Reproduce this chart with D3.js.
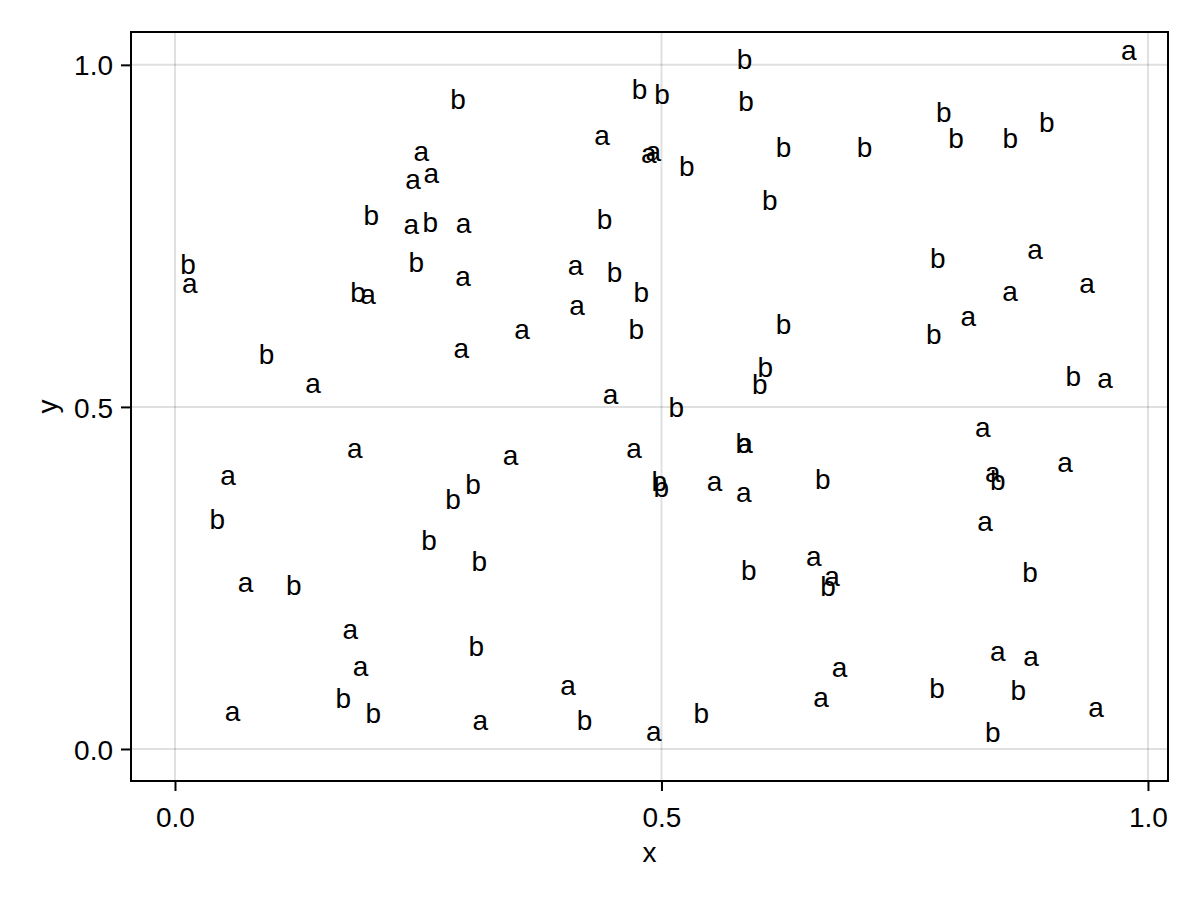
<!DOCTYPE html>
<html>
<head>
<meta charset="utf-8">
<script src="https://cdn.jsdelivr.net/npm/d3@7"></script>
<style>
  html, body { margin: 0; padding: 0; background: #fff; }
  svg { display: block; }
  text { font-family: "Liberation Sans", "Arimo", Arial, sans-serif; }
</style>
</head>
<body>
<svg id="chart" width="1200" height="900"></svg>
<script>
// ---- data ----
const labels = [
  "a","a","a","a","a","a","a","a","a","a","a","a","a","a","a","a","a","a","a","a","a","a","a","a",
  "a","a","a","a","a","a","a","a","a","a","a","a","a","a","a","a","a","a","a","a","a","a","a","a",
  "b","b","b","b","b","b","b","b","b","b","b","b","b","b","b","b","b","b","b","b","b","b","b","b","b","b",
  "b","b","b","b","b","b","b","b","b","b","b","b","b","b","b","b","b","b","b","b","b","b","b","b","b","b"
];
const xValues = [
  0.9722,0.4308,0.2452,0.4789,0.4835,0.2555,0.2367,0.2349,0.2886,0.8759,0.4037,0.2880,
  0.0072,0.1904,0.9293,0.8502,0.4051,0.8074,0.3486,0.2863,0.1339,0.9478,0.4396,0.8222,
  0.5780,0.4637,0.1767,0.3369,0.9067,0.0466,0.8325,0.5465,0.5767,0.8245,0.6486,0.6674,
  0.0644,0.1723,0.8376,0.8718,0.1828,0.6749,0.3959,0.6561,0.0511,0.9386,0.3058,0.4842,
  0.5773,0.4694,0.4925,0.2829,0.5790,0.7821,0.8879,0.7948,0.8505,0.6174,0.7006,0.5181,0.6034,
  0.1938,0.4335,0.2544,0.7760,0.0055,0.2401,0.4438,0.1802,0.4712,0.6174,0.4661,0.7719,0.0860,
  0.5986,0.5931,0.9153,0.5071,0.5760,0.4897,0.4917,0.6578,0.2983,0.8376,0.2778,0.0356,0.2531,
  0.3048,0.5818,0.8708,0.1140,0.6633,0.3017,0.7752,0.8588,0.1651,0.5328,0.1959,0.4129,0.8325
];
const yValues = [
  0.9978,0.8737,0.8493,0.8467,0.8503,0.8178,0.8080,0.7423,0.7447,0.7058,0.6824,0.6663,
  0.6561,0.6400,0.6561,0.6449,0.6240,0.6083,0.5889,0.5622,0.5111,0.5184,0.4940,0.4468,
  0.4235,0.4162,0.4162,0.4049,0.3952,0.3757,0.3797,0.3674,0.3505,0.3086,0.2579,0.2282,
  0.2190,0.1508,0.1192,0.1119,0.0964,0.0949,0.0691,0.0511,0.0315,0.0365,0.0180,0.0023,
  0.9841,0.9403,0.9330,0.9257,0.9233,0.9062,0.8916,0.8683,0.8683,0.8551,0.8551,0.8284,0.7773,
  0.7554,0.7504,0.7456,0.6930,0.6847,0.6872,0.6726,0.6434,0.6434,0.5971,0.5898,0.5825,0.5533,
  0.5339,0.5095,0.5203,0.4755,0.4233,0.3674,0.3586,0.3708,0.3635,0.3684,0.3416,0.3115,0.2808,
  0.2506,0.2370,0.2345,0.2151,0.2141,0.1265,0.0641,0.0618,0.0495,0.0276,0.0276,0.0180,0.0009
];
const xTicks = [0.0, 0.5, 1.0];
const yTicks = [0.0, 0.5, 1.0];
const xLimits = [-0.0452, 1.0206];
const yLimits = [-0.0468, 1.0480];
const xLabel = "x";
const yLabel = "y";

// ---- layout ----
const svg = d3.select("#chart");
const pLeft = 131, pRight = 1168, pTop = 32, pBottom = 781;
const fontSize = 28;

const x = d3.scaleLinear().domain(xLimits).range([pLeft, pRight]);
const y = d3.scaleLinear().domain(yLimits).range([pBottom, pTop]);

// grid
const grid = svg.append("g");
grid.selectAll("line.gx").data(xTicks).join("line").attr("class", "gx")
  .attr("x1", d => x(d)).attr("x2", d => x(d))
  .attr("y1", pTop).attr("y2", pBottom)
  .attr("stroke", "rgba(0,0,0,0.12)").attr("stroke-width", 2);
grid.selectAll("line.gy").data(yTicks).join("line").attr("class", "gy")
  .attr("y1", d => y(d)).attr("y2", d => y(d))
  .attr("x1", pLeft).attr("x2", pRight)
  .attr("stroke", "rgba(0,0,0,0.12)").attr("stroke-width", 2);

// text marks (left/bottom aligned like Makie text!)
svg.append("g").selectAll("text").data(labels.map((l, i) => ({l, xv: xValues[i], yv: yValues[i]})))
  .join("text")
  .attr("x", d => x(d.xv))
  .attr("y", d => y(d.yv))
  .attr("dy", "-0.24em")
  .attr("font-size", fontSize)
  .attr("fill", "#000")
  .text(d => d.l);

// frame
svg.append("rect")
  .attr("x", pLeft).attr("y", pTop)
  .attr("width", pRight - pLeft).attr("height", pBottom - pTop)
  .attr("fill", "none").attr("stroke", "#000").attr("stroke-width", 2);

// axes
const fmt = d3.format(".1f");
const xAxis = svg.append("g").attr("transform", `translate(0,${pBottom})`)
  .call(d3.axisBottom(x).tickValues(xTicks).tickFormat(fmt).tickSize(10).tickPadding(4));
const yAxis = svg.append("g").attr("transform", `translate(${pLeft},0)`)
  .call(d3.axisLeft(y).tickValues(yTicks).tickFormat(fmt).tickSize(10).tickPadding(8));
[xAxis, yAxis].forEach(g => {
  g.select(".domain").remove();
  g.selectAll(".tick line").attr("stroke", "#000").attr("stroke-width", 2);
  g.selectAll(".tick text").attr("font-size", fontSize)
    .attr("font-family", '"Liberation Sans", Arial, sans-serif').attr("fill", "#000");
});
xAxis.selectAll(".tick text").attr("dy", "1.15em");
yAxis.selectAll(".tick text").attr("dy", "0.36em");

// axis labels
svg.append("text")
  .attr("x", (pLeft + pRight) / 2).attr("y", 862)
  .attr("text-anchor", "middle").attr("font-size", fontSize)
  .text(xLabel);
svg.append("text")
  .attr("transform", `translate(57,${(pTop + pBottom) / 2}) rotate(-90)`)
  .attr("text-anchor", "middle").attr("font-size", fontSize)
  .text(yLabel);
</script>
</body>
</html>
